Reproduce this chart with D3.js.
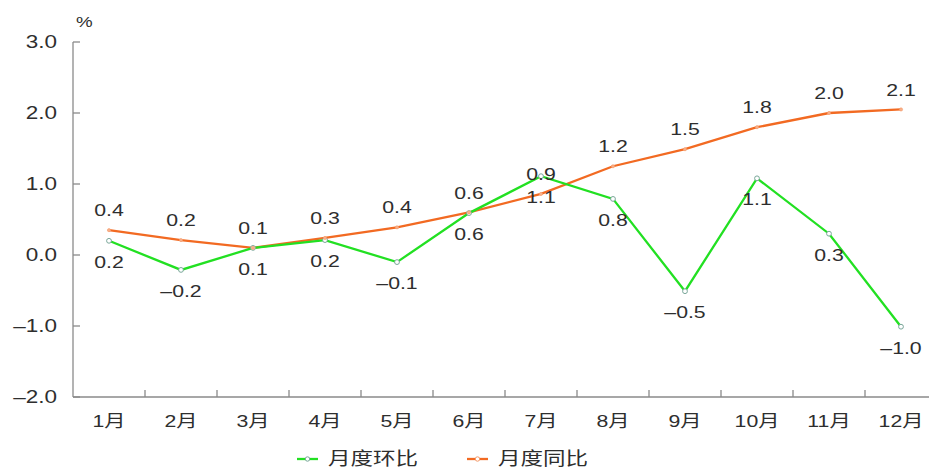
<!DOCTYPE html>
<html><head><meta charset="utf-8">
<script src="https://cdn.jsdelivr.net/npm/d3@7"></script>
<style>body{margin:0;background:#fff}svg{display:block}text{font-family:"Liberation Sans",Arial,"Noto Sans CJK SC",sans-serif;fill:#2e2e2e}</style>
</head><body><svg id="c" width="929" height="470"></svg>
<script>
const months = ["1月","2月","3月","4月","5月","6月","7月","8月","9月","10月","11月","12月"];
const momValues = [0.2,-0.21,0.1,0.21,-0.1,0.59,1.11,0.79,-0.51,1.08,0.3,-1.01];
const momLabels = ["0.2","\u20130.2","0.1","0.2","\u20130.1","0.6","1.1","0.8","\u20130.5","1.1","0.3","\u20131.0"];
const yoyValues = [0.35,0.21,0.1,0.24,0.39,0.6,0.86,1.25,1.49,1.8,2.0,2.05];
const yoyLabels = ["0.4","0.2","0.1","0.3","0.4","0.6","0.9","1.2","1.5","1.8","2.0","2.1"];
const yTicks = [-2,-1,0,1,2,3];
const seriesNames = ["月度环比","月度同比"];

const svg = d3.select("#c");
const x0 = 73, bw = 72, SX = 1.25;
const x = d3.scaleBand().domain(months).range([x0, x0 + bw*months.length]).paddingInner(0).paddingOuter(0);
const y = d3.scaleLinear().domain([-2,3]).range([397,42]);
const cx = m => x(m) + x.bandwidth()/2;

function txt(px, py, s, size, anchor){
  return svg.append("text").attr("transform",`translate(${px},${py}) scale(${SX},1)`)
    .attr("dy","0.36em").attr("text-anchor",anchor||"middle").attr("font-size",size).text(s);
}

// y axis
svg.append("line").attr("x1",x0).attr("x2",x0).attr("y1",y(3)).attr("y2",y(-2)).attr("stroke","#8a8a8a").attr("stroke-width",1.3);
yTicks.forEach(t=>{
  svg.append("line").attr("x1",x0).attr("x2",x0+7).attr("y1",y(t)).attr("y2",y(t)).attr("stroke","#8a8a8a").attr("stroke-width",1.3);
  txt(57, y(t), (t<0?"\u2013":"")+Math.abs(t).toFixed(1), 18, "end");
});
txt(76, 22, "%", 15, "start");

// x axis
svg.append("line").attr("x1",x0).attr("x2",929).attr("y1",y(-2)).attr("y2",y(-2)).attr("stroke","#8a8a8a").attr("stroke-width",1.3);
months.forEach((m,i)=>{
  if(i>0) svg.append("line").attr("x1",x(m)).attr("x2",x(m)).attr("y1",y(-2)).attr("y2",y(-2)-7).attr("stroke","#8a8a8a").attr("stroke-width",1.3);
  txt(cx(m), 421, m, 17);
});

const green="#22e022", orange="#f26a22";
const line = d3.line().x((d,i)=>cx(months[i])).y(d=>y(d));
svg.append("path").attr("d",line(yoyValues)).attr("fill","none").attr("stroke",orange).attr("stroke-width",2.3);
svg.append("path").attr("d",line(momValues)).attr("fill","none").attr("stroke",green).attr("stroke-width",2.3);

svg.selectAll(".pg").data(momValues).enter().append("circle").attr("cx",(d,i)=>cx(months[i])).attr("cy",d=>y(d)).attr("r",2.4)
  .attr("fill","#fff").attr("stroke","#7aa79a").attr("stroke-width",1);
svg.selectAll(".po").data(yoyValues).enter().append("circle").attr("cx",(d,i)=>cx(months[i])).attr("cy",d=>y(d)).attr("r",1.6)
  .attr("fill","#f7b08a").attr("stroke","#f59a6a").attr("stroke-width",0.6);

// labels
yoyValues.forEach((v,i)=>{ txt(cx(months[i]), y(v)-20, yoyLabels[i], 17); });
momValues.forEach((v,i)=>{ txt(cx(months[i]), y(v)+21, momLabels[i], 17); });

// legend
const leg=[{n:seriesNames[0],c:green,m:"#7aa79a",x:297},{n:seriesNames[1],c:orange,m:"#f59a6a",x:467}];
leg.forEach(l=>{
  svg.append("line").attr("x1",l.x).attr("x2",l.x+21).attr("y1",459).attr("y2",459).attr("stroke",l.c).attr("stroke-width",2.3);
  svg.append("circle").attr("cx",l.x+10.5).attr("cy",459).attr("r",2.2).attr("fill","#fff").attr("stroke",l.m).attr("stroke-width",1);
  txt(l.x+31, 459, l.n, 18, "start");
});
</script></body></html>
